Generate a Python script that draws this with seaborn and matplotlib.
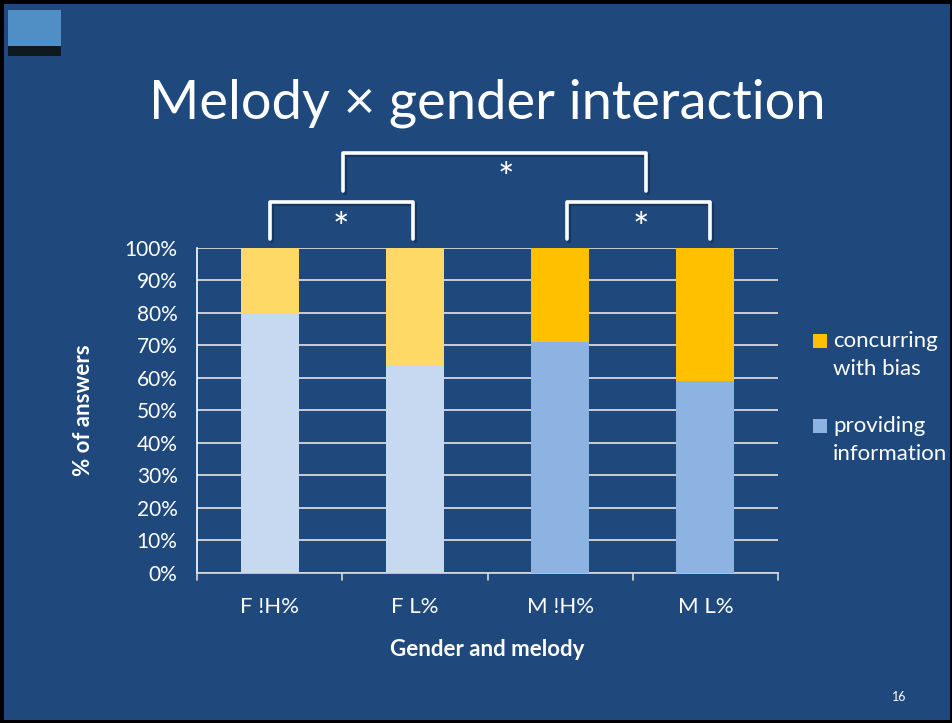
import matplotlib
matplotlib.use('Agg')
from matplotlib import pyplot as plt
from matplotlib.patches import Rectangle
from matplotlib.lines import Line2D
import pandas as pd
import seaborn as sns

categories = ['F !H%', 'F L%', 'M !H%', 'M L%']
providing = [80, 64, 71, 59]
concurring = [20, 36, 29, 41]
providing_colors = ['#C6D9F1', '#C6D9F1', '#8DB3E2', '#8DB3E2']
concurring_colors = ['#FFD966', '#FFD966', '#FFC000', '#FFC000']

bg = '#1F497D'
df = pd.DataFrame({'cat': categories, 'prov': providing, 'conc': concurring})
df['total'] = df['prov'] + df['conc']

sns.set_style('white')
plt.rcParams['font.family'] = ['Lato', 'DejaVu Sans']

fig = plt.figure(figsize=(9.53, 7.23), dpi=100, facecolor=bg)
ax = fig.add_axes([0.2067, 0.2075, 0.6097, 0.4495])
ax.set_facecolor(bg)

sns.barplot(data=df, x='cat', y='total', hue='cat', palette=concurring_colors,
            width=0.4, legend=False, ax=ax, saturation=1, zorder=3,
            edgecolor='none', linewidth=0)
sns.barplot(data=df, x='cat', y='prov', hue='cat', palette=providing_colors,
            width=0.4, legend=False, ax=ax, saturation=1, zorder=3,
            edgecolor='none', linewidth=0)

ax.set_xlim(-0.5, 3.5)
ax.set_ylim(0, 100)
ax.set_yticks(range(0, 101, 10))
ax.set_yticklabels([f'{v}%' for v in range(0, 101, 10)])
ax.yaxis.grid(True, color='#D9D9D9', linewidth=1.3, zorder=0)
ax.set_axisbelow(True)
for s in ['top', 'right']:
    ax.spines[s].set_visible(False)
ax.spines['left'].set_color('white')
ax.spines['bottom'].set_color('#D9D9D9')
ax.spines['left'].set_linewidth(1.2)
ax.spines['bottom'].set_linewidth(1.2)
ax.tick_params(axis='y', colors='white', labelsize=15, length=0, pad=14)
ax.set_xticks([0, 1, 2, 3])
ax.set_xticklabels(categories)
ax.tick_params(axis='x', colors='white', labelsize=16, length=0, pad=17)
for xb in [-0.5, 0.5, 1.5, 2.5, 3.5]:
    ax.plot([xb, xb], [0, -2.2], color='#D9D9D9', lw=1.2, clip_on=False)
ax.set_xlabel('Gender and melody', color='white', fontsize=16, fontweight='bold', labelpad=16)
ax.set_ylabel('% of answers', color='white', fontsize=16, fontweight='bold', labelpad=22)

# title
fig.text(0.511, 0.857, 'Melody \u00d7 gender interaction', color='white', fontsize=39,
         ha='center', va='center')

# significance brackets
def bracket(x0, x1, ytop, ybot):
    xs = [x0, x0, x1, x1]
    ys = [ybot, ytop, ytop, ybot]
    px = [x / 953 for x in xs]
    py = [1 - y / 723 for y in ys]
    fig.add_artist(Line2D([p + 0.002 for p in px], [p - 0.003 for p in py], color='#0F2640',
                          lw=3, alpha=0.5, solid_joinstyle='round'))
    fig.add_artist(Line2D(px, py, color='white', lw=2.6, solid_joinstyle='round',
                          solid_capstyle='round'))

bracket(270, 413, 202, 239)
bracket(343, 646, 153, 191)
bracket(567, 710, 202, 239)
for sx, sy in [(341, 230), (506, 180), (641, 230)]:
    fig.text(sx / 953, 1 - sy / 723, '*', color='white', fontsize=28, ha='center', va='center')

# legend
for ly, lab, col in [(341, 'concurring\nwith bias', '#FFC000'),
                     (426, 'providing\ninformation', '#8DB3E2')]:
    fig.add_artist(Rectangle((813 / 953, 1 - (ly + 7) / 723), 14 / 953, 14 / 723,
                             facecolor=col, edgecolor='none'))
    fig.text(833 / 953, 1 - (ly - 10) / 723, lab, color='white', fontsize=16,
             ha='left', va='top', linespacing=1.5)

# logo
fig.add_artist(Rectangle((8 / 953, 1 - 56 / 723), 53 / 953, 46 / 723,
                         facecolor='#4F8FC6', edgecolor='none'))
fig.add_artist(Rectangle((8 / 953, 1 - 56 / 723), 53 / 953, 10 / 723,
                         facecolor='#101820', edgecolor='none'))
# slide number
fig.text(899 / 953, 1 - 697 / 723, '16', color='white', fontsize=9, ha='center', va='center')

# black border
fig.add_artist(Rectangle((0, 0), 1, 1, fill=False, edgecolor='black', lw=5,
                         transform=fig.transFigure))

fig.savefig('out.png', dpi=100, facecolor=bg)
